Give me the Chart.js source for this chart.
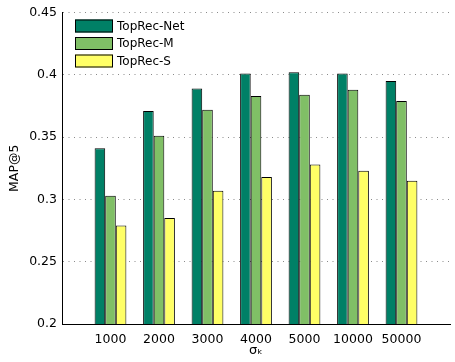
<!DOCTYPE html>
<html>
<head>
<meta charset="utf-8">
<script src="https://cdn.jsdelivr.net/npm/chart.js@4/dist/chart.umd.min.js"></script>
<style>
  html, body { margin: 0; padding: 0; overflow: hidden; background: #fff; }
  #wrap { width: 458px; height: 362px; }
</style>
</head>
<body>
<div id="wrap"><canvas id="c" width="458" height="362"></canvas></div>
<script>
// sigma_k settings on the x axis
const categories = ['1000', '2000', '3000', '4000', '5000', '10000', '50000'];
// MAP@5 per method
const topRecNet = [0.341, 0.371, 0.389, 0.401, 0.402, 0.401, 0.395];
const topRecM   = [0.303, 0.351, 0.372, 0.383, 0.384, 0.388, 0.379];
const topRecS   = [0.279, 0.285, 0.307, 0.318, 0.328, 0.323, 0.315];
const seriesNames = ['TopRec-Net', 'TopRec-M', 'TopRec-S'];
const yTickLabels = ['0.2', '0.25', '0.3', '0.35', '0.4', '0.45'];

// empty slots at both ends leave half-width margins left and right of the groups
const labels = [''].concat(categories, ['']);
const pad = arr => [null].concat(arr, [null]);

const FONT = 'DejaVu Sans';

// vertical legend drawn in the upper-left corner of the plot
const cornerLegend = {
  id: 'cornerLegend',
  afterDraw(chart) {
    const ctx = chart.ctx;
    const area = chart.chartArea;
    const x0 = area.left + 13, y0 = area.top + 7;
    ctx.save();
    ctx.font = '12px "' + FONT + '"';
    ctx.textBaseline = 'middle';
    ctx.textAlign = 'left';
    chart.data.datasets.forEach((ds, i) => {
      const y = y0 + i * 17.5;
      ctx.fillStyle = ds.backgroundColor;
      ctx.fillRect(x0, y, 38, 13);
      ctx.strokeStyle = '#000';
      ctx.lineWidth = 1;
      ctx.strokeRect(x0 + 0.5, y + 0.5, 37, 12);
      ctx.fillStyle = '#000';
      ctx.fillText(ds.label, x0 + 42, y + 7);
    });
    ctx.restore();
  }
};

new Chart(document.getElementById('c'), {
  type: 'bar',
  data: {
    labels: labels,
    datasets: [
      { label: seriesNames[0], data: pad(topRecNet), backgroundColor: '#008066' },
      { label: seriesNames[1], data: pad(topRecM),   backgroundColor: '#80bf66' },
      { label: seriesNames[2], data: pad(topRecS),   backgroundColor: '#ffff66' }
    ]
  },
  options: {
    responsive: false,
    animation: false,
    devicePixelRatio: 1,
    layout: { padding: { top: 12, right: 1, bottom: 0, left: 0 } },
    datasets: {
      bar: {
        borderColor: '#000',
        borderWidth: 1,
        categoryPercentage: 0.655,
        barPercentage: 1.0
      }
    },
    plugins: {
      legend: { display: false },
      tooltip: { enabled: false }
    },
    scales: {
      x: {
        offset: false,
        grid: { display: false, drawTicks: false },
        border: { display: true, color: '#000', width: 1 },
        ticks: {
          color: '#000',
          padding: 8,
          maxRotation: 0,
          autoSkip: false,
          font: { family: FONT, size: 12.5 }
        },
        title: {
          display: true,
          text: 'σₖ',
          color: '#000',
          padding: { top: 0, bottom: 4 },
          font: { family: FONT, size: 13 }
        },
        afterFit(scale) { scale.height = 38; }
      },
      y: {
        min: 0.2,
        max: 0.45,
        ticks: {
          stepSize: 0.05,
          color: '#000',
          padding: 5,
          font: { family: FONT, size: 12.5 },
          callback: (v, i) => yTickLabels[i]
        },
        grid: {
          color: '#8a8a8a',
          lineWidth: 1,
          drawTicks: false
        },
        border: { display: true, color: '#000', width: 1, dash: [1, 4.5] },
        title: {
          display: true,
          text: 'MAP@5',
          color: '#000',
          padding: { top: 7, bottom: 0 },
          font: { family: FONT, size: 12.5 }
        },
        afterFit(scale) { scale.width = 62; }
      }
    }
  },
  plugins: [cornerLegend]
});
</script>
</body>
</html>
